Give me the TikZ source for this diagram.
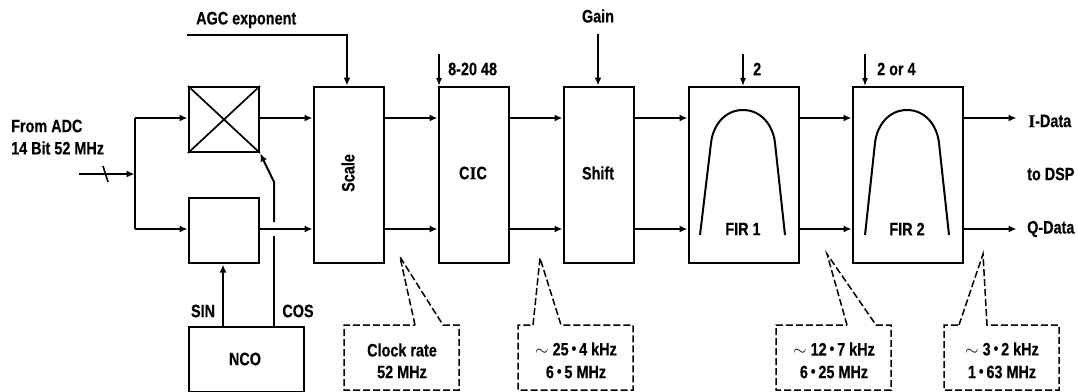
\documentclass[tikz,border=0pt]{standalone}
\usepackage{fontspec}
\setmainfont[FakeStretch=0.8,BoldFeatures={FakeBold=0.3}]{Liberation Sans}
\newfontfamily\serI[FakeBold=0.3]{Liberation Serif}
\usetikzlibrary{arrows.meta}
\newcommand{\cdotmark}{\,\raisebox{1.5pt}{\scalebox{.9}{•}}\,}
\tikzset{
  blk/.style={draw=black,line width=2pt,inner sep=0pt,anchor=north west,fill=white},
  conn/.style={line width=2pt,-{Latex[length=8pt,width=7pt]},shorten >=0.5pt},
  plain/.style={line width=2pt},
  thin arrow/.style={line width=1.4pt,-{Latex[length=8pt,width=6pt]}},
  lab/.style={font=\fontsize{18}{20}\selectfont\bfseries,inner sep=0pt,text=black},
  lableft/.style={lab,anchor=west},
  callout/.style={line width=1.5pt,dash pattern=on 7pt off 3pt,line join=miter},
  curve/.style={line width=2pt,line cap=butt},
}
\begin{document}
\begin{tikzpicture}[x=1pt,y=-1pt]
\useasboundingbox (0,0) rectangle (1078,391);
% blocks
\node[blk,minimum width=70pt,minimum height=65pt] (mix) at (188,86) {};
\node[blk,minimum width=70pt,minimum height=65pt] (low) at (188,197) {};
\node[blk,minimum width=70pt,minimum height=176pt] (scale) at (313,86) {};
\node[blk,minimum width=70pt,minimum height=176pt] (cic) at (438,86) {};
\node[blk,minimum width=70pt,minimum height=176pt] (shift) at (563,86) {};
\node[blk,minimum width=110pt,minimum height=176pt] (fira) at (688,86) {};
\node[blk,minimum width=110pt,minimum height=176pt] (firb) at (852,86) {};
\node[blk,minimum width=115pt,minimum height=65pt] (nco) at (188,326) {};
\draw[line width=1.7pt] (mix.north west) -- (mix.south east) (mix.north east) -- (mix.south west);
% block labels
\node[lab,rotate=90] (tscale) at (348,173) {Scale};
\node[lab] (tcic) at (473,173) {C{\serI I}C};
\node[lab] (tshift) at (598,173) {Shift};
\node[lab] (tfira) at (743,229) {FIR 1};
\node[lab] (tfirb) at (907,229) {FIR 2};
\node[lab] (tnco) at (245,359) {NCO};
% other labels
\node[lableft] (tadc1) at (11,126) {From ADC};
\node[lableft] (tadc2) at (11,148) {14 Bit 52 MHz};
\node[lableft] (tagc) at (196,20) {AGC exponent};
\node[lab] (tgain) at (598,16) {Gain};
\node[lableft] (tcicd) at (448,69) {8-20 48};
\node[lableft] (tfad) at (753,69) {2};
\node[lableft] (tfbd) at (877,69) {2 or 4};
\node[lab] (tsin) at (203,311) {SIN};
\node[lab] (tcos) at (298,311) {COS};
\node[lableft] (tidata) at (1028,121) {{\serI I}-Data};
\node[lableft] (tdsp) at (1027,174) {to DSP};
\node[lableft] (tqdata) at (1027,229) {Q-Data};
% input
\coordinate (inS) at (79,174);
\coordinate (trunk) at (135,174);
\draw[conn] (inS) -- (trunk);
\draw[line width=1.6pt] (103,166) -- (108,182);
\draw[plain,line join=miter] (135,118) -- (trunk) -- (135,229);
\coordinate (tr1) at (135,118);
\coordinate (tr2) at (135,229);
\draw[conn] (tr1) -- (mix.west |- tr1);
\draw[conn] (tr2) -- (low.west |- tr2);
% horizontal connectors
\foreach \a/\b in {mix/scale,scale/cic,cic/shift,shift/fira,fira/firb}{
  \draw[conn] (\a.east |- tr1) -- (\b.west |- tr1);
}
\foreach \a/\b in {low/scale,scale/cic,cic/shift,shift/fira,fira/firb}{
  \draw[conn] (\a.east |- tr2) -- (\b.west |- tr2);
}
\coordinate (iend) at (1017,118);
\coordinate (qend) at (1017,229);
\draw[conn] (firb.east |- iend) -- (iend);
\draw[conn] (firb.east |- qend) -- (qend);
% NCO
\coordinate (s1) at (223,326);
\draw[conn] (s1) -- (s1 |- low.south);
\coordinate (c1) at (274,326);
\coordinate (c2) at (274,236);
\coordinate (c3) at (274,222);
\coordinate (c4) at (274,182);
\draw[plain] (c1) -- (c2);
\draw[conn,line join=miter] (c3) -- (c4) -- (mix.south east);
% control inputs
\coordinate (agcS) at (187,35);
\coordinate (agcC) at (347,35);
\draw[conn,line join=miter] (agcS) -- (agcC) -- (agcC |- scale.north);
\coordinate (gainS) at (598,34);
\draw[conn] (gainS) -- (gainS |- shift.north);
\coordinate (d1) at (439,54);
\coordinate (d2) at (743,54);
\coordinate (d3) at (865,54);
\draw[thin arrow] (d1) -- (d1 |- cic.north);
\draw[thin arrow] (d2) -- (d2 |- fira.north);
\draw[thin arrow] (d3) -- (d3 |- firb.north);
% filter curves
\draw[curve] (700,235) -- (711,143) .. controls (713,125) and (725,110) .. (743,110) .. controls (761,110) and (773,125) .. (775,143) -- (785,235);
\draw[curve] (865,235) -- (875,143) .. controls (877,125) and (889,110) .. (907,110) .. controls (925,110) and (937,125) .. (939,143) -- (949,235);
% callouts
\draw[callout] (415,325) -- (400,257) -- (443,325) -- (459,325) -- (459,390) -- (344,390) -- (344,325) -- cycle;
\draw[callout] (533,325) -- (540,258) -- (561,325) -- (633,325) -- (633,390) -- (518,390) -- (518,325) -- cycle;
\draw[callout] (847,325) -- (827,254) -- (876,325) -- (891,325) -- (891,390) -- (776,390) -- (776,325) -- cycle;
\draw[callout] (959,325) -- (983,254) -- (987,325) -- (1059,325) -- (1059,390) -- (944,390) -- (944,325) -- cycle;
\node[lab] (k1a) at (402,350) {Clock rate};
\node[lab] (k1b) at (402,372) {52 MHz};
\node[lab] (k2a) at (576,349) {$\sim$ 25\cdotmark 4 kHz};
\node[lab] (k2b) at (576,372) {6\cdotmark 5 MHz};
\node[lab] (k3a) at (834,349) {$\sim$ 12\cdotmark 7 kHz};
\node[lab] (k3b) at (834,372) {6\cdotmark 25 MHz};
\node[lab] (k4a) at (1002,349) {$\sim$ 3\cdotmark 2 kHz};
\node[lab] (k4b) at (1002,372) {1\cdotmark 63 MHz};
\end{tikzpicture}
\end{document}
